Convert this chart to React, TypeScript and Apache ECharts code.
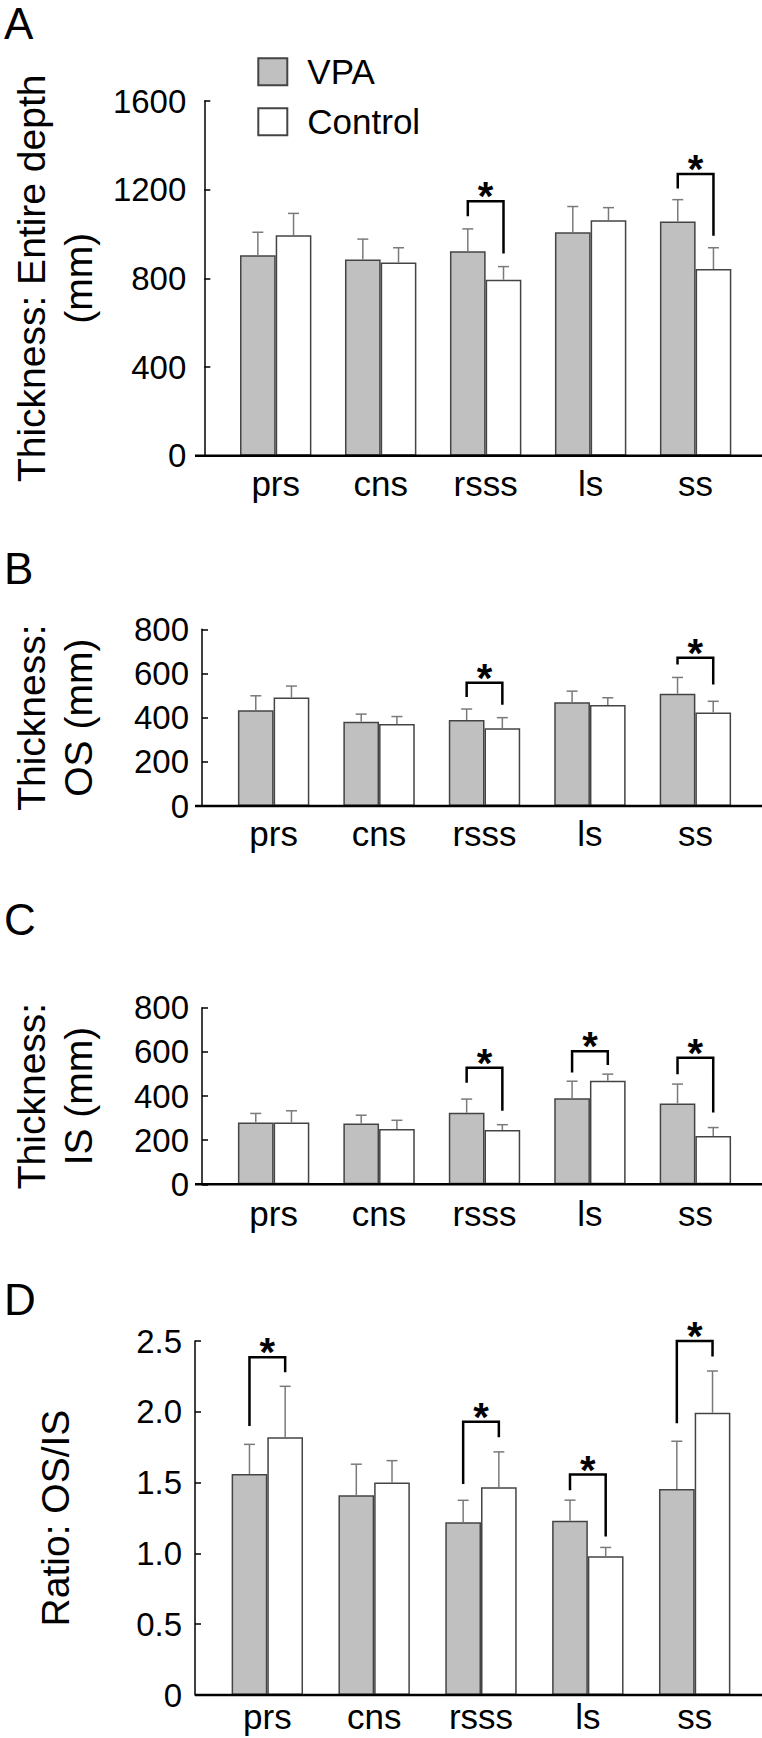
import React, { useEffect, useRef } from "react";
import * as echarts from "echarts";

// ---------------- data ----------------
const CATEGORIES = ["prs", "cns", "rsss", "ls", "ss"];

// A: Thickness, entire depth
const A_VPA = [904, 885, 922, 1008, 1057];
const A_VPA_SE = [104, 92, 101, 116, 98];
const A_CTL = [994, 871, 794, 1062, 842];
const A_CTL_SE = [99, 67, 59, 57, 96];
// [category index, bracket top, left leg bottom, right leg bottom]
const A_SIG = [
  [2, 1148, 1080, 912],
  [4, 1271, 1205, 992],
];

// B: Thickness, OS
const B_VPA = [434, 381, 389, 470, 508];
const B_VPA_SE = [65, 35, 50, 50, 74];
const B_CTL = [491, 371, 352, 457, 423];
const B_CTL_SE = [52, 34, 48, 33, 51];
const B_SIG = [
  [2, 558, 494, 458],
  [4, 671, 641, 550],
];

// C: Thickness, IS
const C_VPA = [280, 275, 324, 390, 366];
const C_VPA_SE = [41, 38, 62, 77, 88];
const C_CTL = [280, 251, 246, 469, 219];
const C_CTL_SE = [53, 39, 24, 30, 38];
const C_SIG = [
  [2, 528, 460, 333],
  [3, 603, 507, 540],
  [4, 573, 498, 325],
];

// D: Ratio OS/IS
const D_VPA = [1.56, 1.41, 1.22, 1.23, 1.455];
const D_VPA_SE = [0.21, 0.22, 0.155, 0.146, 0.337];
const D_CTL = [1.82, 1.5, 1.467, 0.979, 1.993];
const D_CTL_SE = [0.36, 0.155, 0.25, 0.063, 0.295];
const D_SIG = [
  [0, 2.385, 1.9, 2.28],
  [2, 1.93, 1.49, 1.82],
  [3, 1.557, 1.446, 1.12],
  [4, 2.5, 1.92, 2.39],
];

const Y_MAX = [1600, 800, 800, 2.5];
const Y_INTERVAL = [400, 200, 200, 0.5];
const Y_TITLES = [
  "Thickness: Entire depth\n(mm)",
  "Thickness:\nOS (mm)",
  "Thickness:\nIS (mm)",
  "Ratio: OS/IS",
];
const PANEL_LETTERS = ["A", "B", "C", "D"];
const SERIES_NAMES = ["VPA", "Control"];

const PANEL_DATA = [
  { vpa: A_VPA, vpaSe: A_VPA_SE, ctl: A_CTL, ctlSe: A_CTL_SE, sig: A_SIG },
  { vpa: B_VPA, vpaSe: B_VPA_SE, ctl: B_CTL, ctlSe: B_CTL_SE, sig: B_SIG },
  { vpa: C_VPA, vpaSe: C_VPA_SE, ctl: C_CTL, ctlSe: C_CTL_SE, sig: C_SIG },
  { vpa: D_VPA, vpaSe: D_VPA_SE, ctl: D_CTL, ctlSe: D_CTL_SE, sig: D_SIG },
];

// ---------------- layout / style ----------------
const W = 762;
const H = 1738;
const FONT = '"Liberation Sans", Arial, Helvetica, sans-serif';
const AXIS_X = 195;
const GRID_LEFT = 213.9;
const GRID_RIGHT = 13.9;
const BAR_W = 35.7;
const CAP_W = 11;
const VPA_FILL = "#c0c0c0";
const BAR_BORDER = "#444";
const ERR_COLOR = "#7a7a7a";
const LAYOUT = [
  { top: 101, height: 354.7, nameGap: 100, letterY: 23.5, labelMargin: 10, tickMargin: 18 },
  { top: 629.3, height: 176.7, nameGap: 100, letterY: 568, labelMargin: 10, tickMargin: 13 },
  { top: 1007.7, height: 176.6, nameGap: 100, letterY: 919, labelMargin: 12, tickMargin: 13 },
  { top: 1341, height: 354, nameGap: 116, letterY: 1299, labelMargin: 4, tickMargin: 13 },
];

function renderErr(params: any, api: any) {
  const cat = api.value(0);
  const mean = api.value(1);
  const se = api.value(2);
  const side = api.value(3);
  const p0 = api.coord([cat, mean]);
  const p1 = api.coord([cat, mean + se]);
  const x = p0[0] + (side === 0 ? -BAR_W / 2 : BAR_W / 2);
  const st = { stroke: ERR_COLOR, lineWidth: 1.5 };
  return {
    type: "group",
    children: [
      { type: "line", shape: { x1: x, y1: p0[1], x2: x, y2: p1[1] }, style: st },
      { type: "line", shape: { x1: x - CAP_W / 2, y1: p1[1], x2: x + CAP_W / 2, y2: p1[1] }, style: st },
    ],
  };
}

function renderSig(params: any, api: any) {
  const cat = api.value(0);
  const top = api.value(1);
  const lb = api.value(2);
  const rb = api.value(3);
  const pT = api.coord([cat, top]);
  const pL = api.coord([cat, lb]);
  const pR = api.coord([cat, rb]);
  const xL = pT[0] - BAR_W / 2;
  const xR = pT[0] + BAR_W / 2;
  return {
    type: "group",
    children: [
      {
        type: "polyline",
        shape: { points: [[xL, pL[1]], [xL, pT[1]], [xR, pT[1]], [xR, pR[1]]] },
        style: { stroke: "#000", lineWidth: 2.5, fill: "none" },
      },
      {
        type: "text",
        style: {
          text: "*",
          x: pT[0],
          y: pT[1] - 5,
          fill: "#000",
          font: `bold 40px ${FONT}`,
          align: "center",
          verticalAlign: "middle",
        },
      },
    ],
  };
}

function buildOption() {
  const grid = LAYOUT.map((l) => ({ left: GRID_LEFT, right: GRID_RIGHT, top: l.top, height: l.height }));
  const xAxis = LAYOUT.map((l, i) => ({
    type: "category",
    gridIndex: i,
    data: CATEGORIES,
    axisLine: { show: false },
    axisTick: { show: false },
    axisLabel: { fontSize: 35, color: "#000", fontFamily: FONT, margin: l.labelMargin },
  }));
  const yAxis = LAYOUT.map((l, i) => ({
    type: "value",
    gridIndex: i,
    min: 0,
    max: Y_MAX[i],
    interval: Y_INTERVAL[i],
    offset: GRID_LEFT - AXIS_X,
    axisLine: { show: true, lineStyle: { color: "#000", width: 1.5 } },
    axisTick: { show: true, inside: true, length: 6, lineStyle: { color: "#000", width: 1.5 } },
    splitLine: { show: false },
    axisLabel: {
      fontSize: 33,
      color: "#000",
      fontFamily: FONT,
      margin: l.tickMargin,
      formatter: (v: number) => (i === 3 ? (v === 0 ? "0" : v.toFixed(1)) : String(v)),
    },
    name: Y_TITLES[i],
    nameLocation: "middle",
    nameRotate: 90,
    nameGap: l.nameGap,
    nameTextStyle: { fontSize: 39, lineHeight: 47, color: "#000", fontFamily: FONT },
  }));

  const series: any[] = [];
  PANEL_DATA.forEach((p, i) => {
    series.push({
      type: "bar",
      name: SERIES_NAMES[0],
      xAxisIndex: i,
      yAxisIndex: i,
      data: p.vpa,
      barWidth: BAR_W,
      barGap: "0%",
      itemStyle: { color: VPA_FILL, borderColor: BAR_BORDER, borderWidth: 1.5 },
      emphasis: { disabled: true },
    });
    series.push({
      type: "bar",
      name: SERIES_NAMES[1],
      xAxisIndex: i,
      yAxisIndex: i,
      data: p.ctl,
      barWidth: BAR_W,
      barGap: "0%",
      itemStyle: { color: "#fff", borderColor: BAR_BORDER, borderWidth: 1.5 },
      emphasis: { disabled: true },
    });
    const errData = p.vpa
      .map((v, k) => [k, v, p.vpaSe[k], 0])
      .concat(p.ctl.map((v, k) => [k, v, p.ctlSe[k], 1]));
    series.push({
      type: "custom",
      name: "err" + i,
      xAxisIndex: i,
      yAxisIndex: i,
      data: errData,
      encode: { x: 0, y: 1 },
      renderItem: renderErr,
      clip: false,
      z: 5,
    });
    series.push({
      type: "custom",
      name: "sig" + i,
      xAxisIndex: i,
      yAxisIndex: i,
      data: p.sig,
      encode: { x: 0, y: 1 },
      renderItem: renderSig,
      clip: false,
      z: 6,
    });
  });

  const graphic: any[] = [];
  LAYOUT.forEach((l, i) => {
    graphic.push({
      type: "line",
      shape: { x1: AXIS_X, y1: l.top + l.height, x2: W, y2: l.top + l.height },
      style: { stroke: "#000", lineWidth: 2.5 },
      z: 10,
    });
    graphic.push({
      type: "text",
      x: 4,
      y: l.letterY,
      style: { text: PANEL_LETTERS[i], font: `44px ${FONT}`, fill: "#000", verticalAlign: "middle" },
    });
  });

  return {
    animation: false,
    backgroundColor: "#fff",
    grid,
    xAxis,
    yAxis,
    series,
    graphic,
    legend: {
      data: SERIES_NAMES,
      orient: "vertical",
      left: 257.3,
      top: 54.3,
      padding: 0,
      itemWidth: 29,
      itemHeight: 27,
      itemGap: 15,
      icon: "rect",
      selectedMode: false,
      textStyle: { fontSize: 35, color: "#000", fontFamily: FONT, padding: [0, 0, 0, 15] },
    },
  };
}

export default function App() {
  const ref = useRef<HTMLDivElement>(null);
  useEffect(() => {
    document.body.style.margin = "0";
    const chart = echarts.init(ref.current as HTMLDivElement, null, { renderer: "svg" });
    chart.setOption(buildOption() as any);
    return () => chart.dispose();
  }, []);
  return <div ref={ref} style={{ width: W, height: H, background: "#fff" }} />;
}
